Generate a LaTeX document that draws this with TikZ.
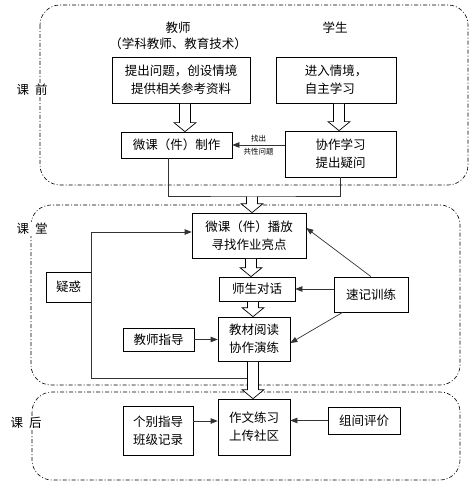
\documentclass[tikz,border=0pt]{standalone}
\usepackage{fontspec}
\setmainfont{Noto Sans CJK SC}
\usetikzlibrary{calc,arrows.meta}

\tikzset{
  box/.style={draw,line width=0.7pt,fill=white,inner sep=0pt,align=center,
    font=\fontsize{12.5}{18}\selectfont},
  txt/.style={inner sep=1pt,font=\fontsize{12.5}{18}\selectfont},
  small/.style={inner sep=1pt,font=\fontsize{7.5}{9}\selectfont},
  arr/.style={-{Triangle[length=7pt,width=5.5pt]},line width=0.7pt,draw=black!80},
  wire/.style={line width=0.7pt,draw=black!80},
  zone/.style={dash pattern=on 4pt off 2pt on 1pt off 2pt,rounded corners=20pt,line width=0.6pt},
  hollow/.style={draw,fill=white,line width=0.7pt}
}
% wide open arrow between two anchors
\newcommand\hollowarr[2]{\draw[hollow] let \p1=#1, \p2=#2 in
  ({\x1-5.5pt},{\y1-0.5pt}) -- ({\x1-5.5pt},{\y2+9pt}) -- ({\x1-11pt},{\y2+9pt})
  -- (\x1,\y2) -- ({\x1+11pt},{\y2+9pt}) -- ({\x1+5.5pt},{\y2+9pt})
  -- ({\x1+5.5pt},{\y1-0.5pt});}

\begin{document}
\begin{tikzpicture}[x=1pt,y=-1pt]
\useasboundingbox (0,0) rectangle (474,489);

% the three phases
\draw[zone] (40,5) rectangle (468,185);
\draw[zone] (31,205) rectangle (460,385);
\draw[zone] (32,392) rectangle (460,480);
\node[txt,fill=white] (before) at (32,90) {课\hspace{6pt}前};
\node[txt,fill=white] (inclass) at (32,229) {课\hspace{6pt}堂};
\node[txt,fill=white] (after) at (26,423) {课\hspace{6pt}后};

% before class
\node[txt] (teacher) at (178,28) {教师};
\node[txt] (teacher2) at (178,44) {（学科教师、教育技术）};
\node[txt] (student) at (335,28) {学生};
\node[box,minimum width=138,minimum height=46] (ask) at (181,80)
	{提出问题，创设情境\\提供相关参考资料};
\node[box,minimum width=120,minimum height=46,align=left] (enter) at (336,80)
	{进入情境，\\自主学习};
\node[box,minimum width=111,minimum height=26] (make) at (176.5,145)
	{微课（件）制作};
\node[box,minimum width=111,minimum height=46] (coop) at (340.5,154)
	{协作学习\\提出疑问};
\hollowarr{([xshift=4pt]ask.south)}{(make.north)}
\hollowarr{([xshift=3pt]enter.south)}{(coop.north)}
\draw[arr] (coop.west |- make.east) -- (make.east)
	node[midway,small,above=2pt] {找出}
	node[midway,small,below=2pt] {共性问题};
\coordinate (join) at (252,196);
\draw[wire] ([xshift=-8.5pt]make.south) |- (join) -| (coop.south);

% in class
\node[box,minimum width=114,minimum height=45] (play) at (249,235.5)
	{微课（件）播放\\寻找作业亮点};
\node[box,minimum width=76,minimum height=24] (talk) at (257,289)
	{师生对话};
\node[box,minimum width=72,minimum height=44] (read) at (254,339)
	{教材阅读\\协作演练};
\node[box,minimum width=45,minimum height=30] (doubt) at (68.5,287)
	{疑惑};
\node[box,minimum width=71,minimum height=23] (guide) at (158.5,339.5)
	{教师指导};
\node[box,minimum width=74,minimum height=35] (memo) at (371,294.5)
	{速记训练};
\hollowarr{(join)}{(play.north)}
\hollowarr{([xshift=2pt]play.south)}{(talk.north)}
\hollowarr{([xshift=-4pt]talk.south)}{(read.north)}
\coordinate (back) at (247.5,378);
\draw[arr] (back) -| (doubt.east) |- ([yshift=3.5pt]play.west);
\draw[arr] (guide.east) -- (guide.east -| read.west);
\draw[arr] (memo.north) -- ([yshift=7.5pt]play.east);
\draw[arr] (memo.west |- talk.east) -- (talk.east);
\draw[arr] ([xshift=9pt]memo.south west) -- ([yshift=-4pt]read.east);

% after class
\node[box,minimum width=72,minimum height=56] (write) at (254,427)
	{作文练习\\上传社区};
\node[box,minimum width=70,minimum height=49] (single) at (158,430.5)
	{个别指导\\班级记录};
\node[box,minimum width=72,minimum height=27] (review) at (364,420.5)
	{组间评价};
\hollowarr{([xshift=-1pt]read.south)}{(write.north)}
\draw[arr] ([yshift=9.5pt]single.east) -- ([yshift=9.5pt]single.east -| write.west);
\draw[arr] (review.west) -- (review.west -| write.east);
\end{tikzpicture}
\end{document}
